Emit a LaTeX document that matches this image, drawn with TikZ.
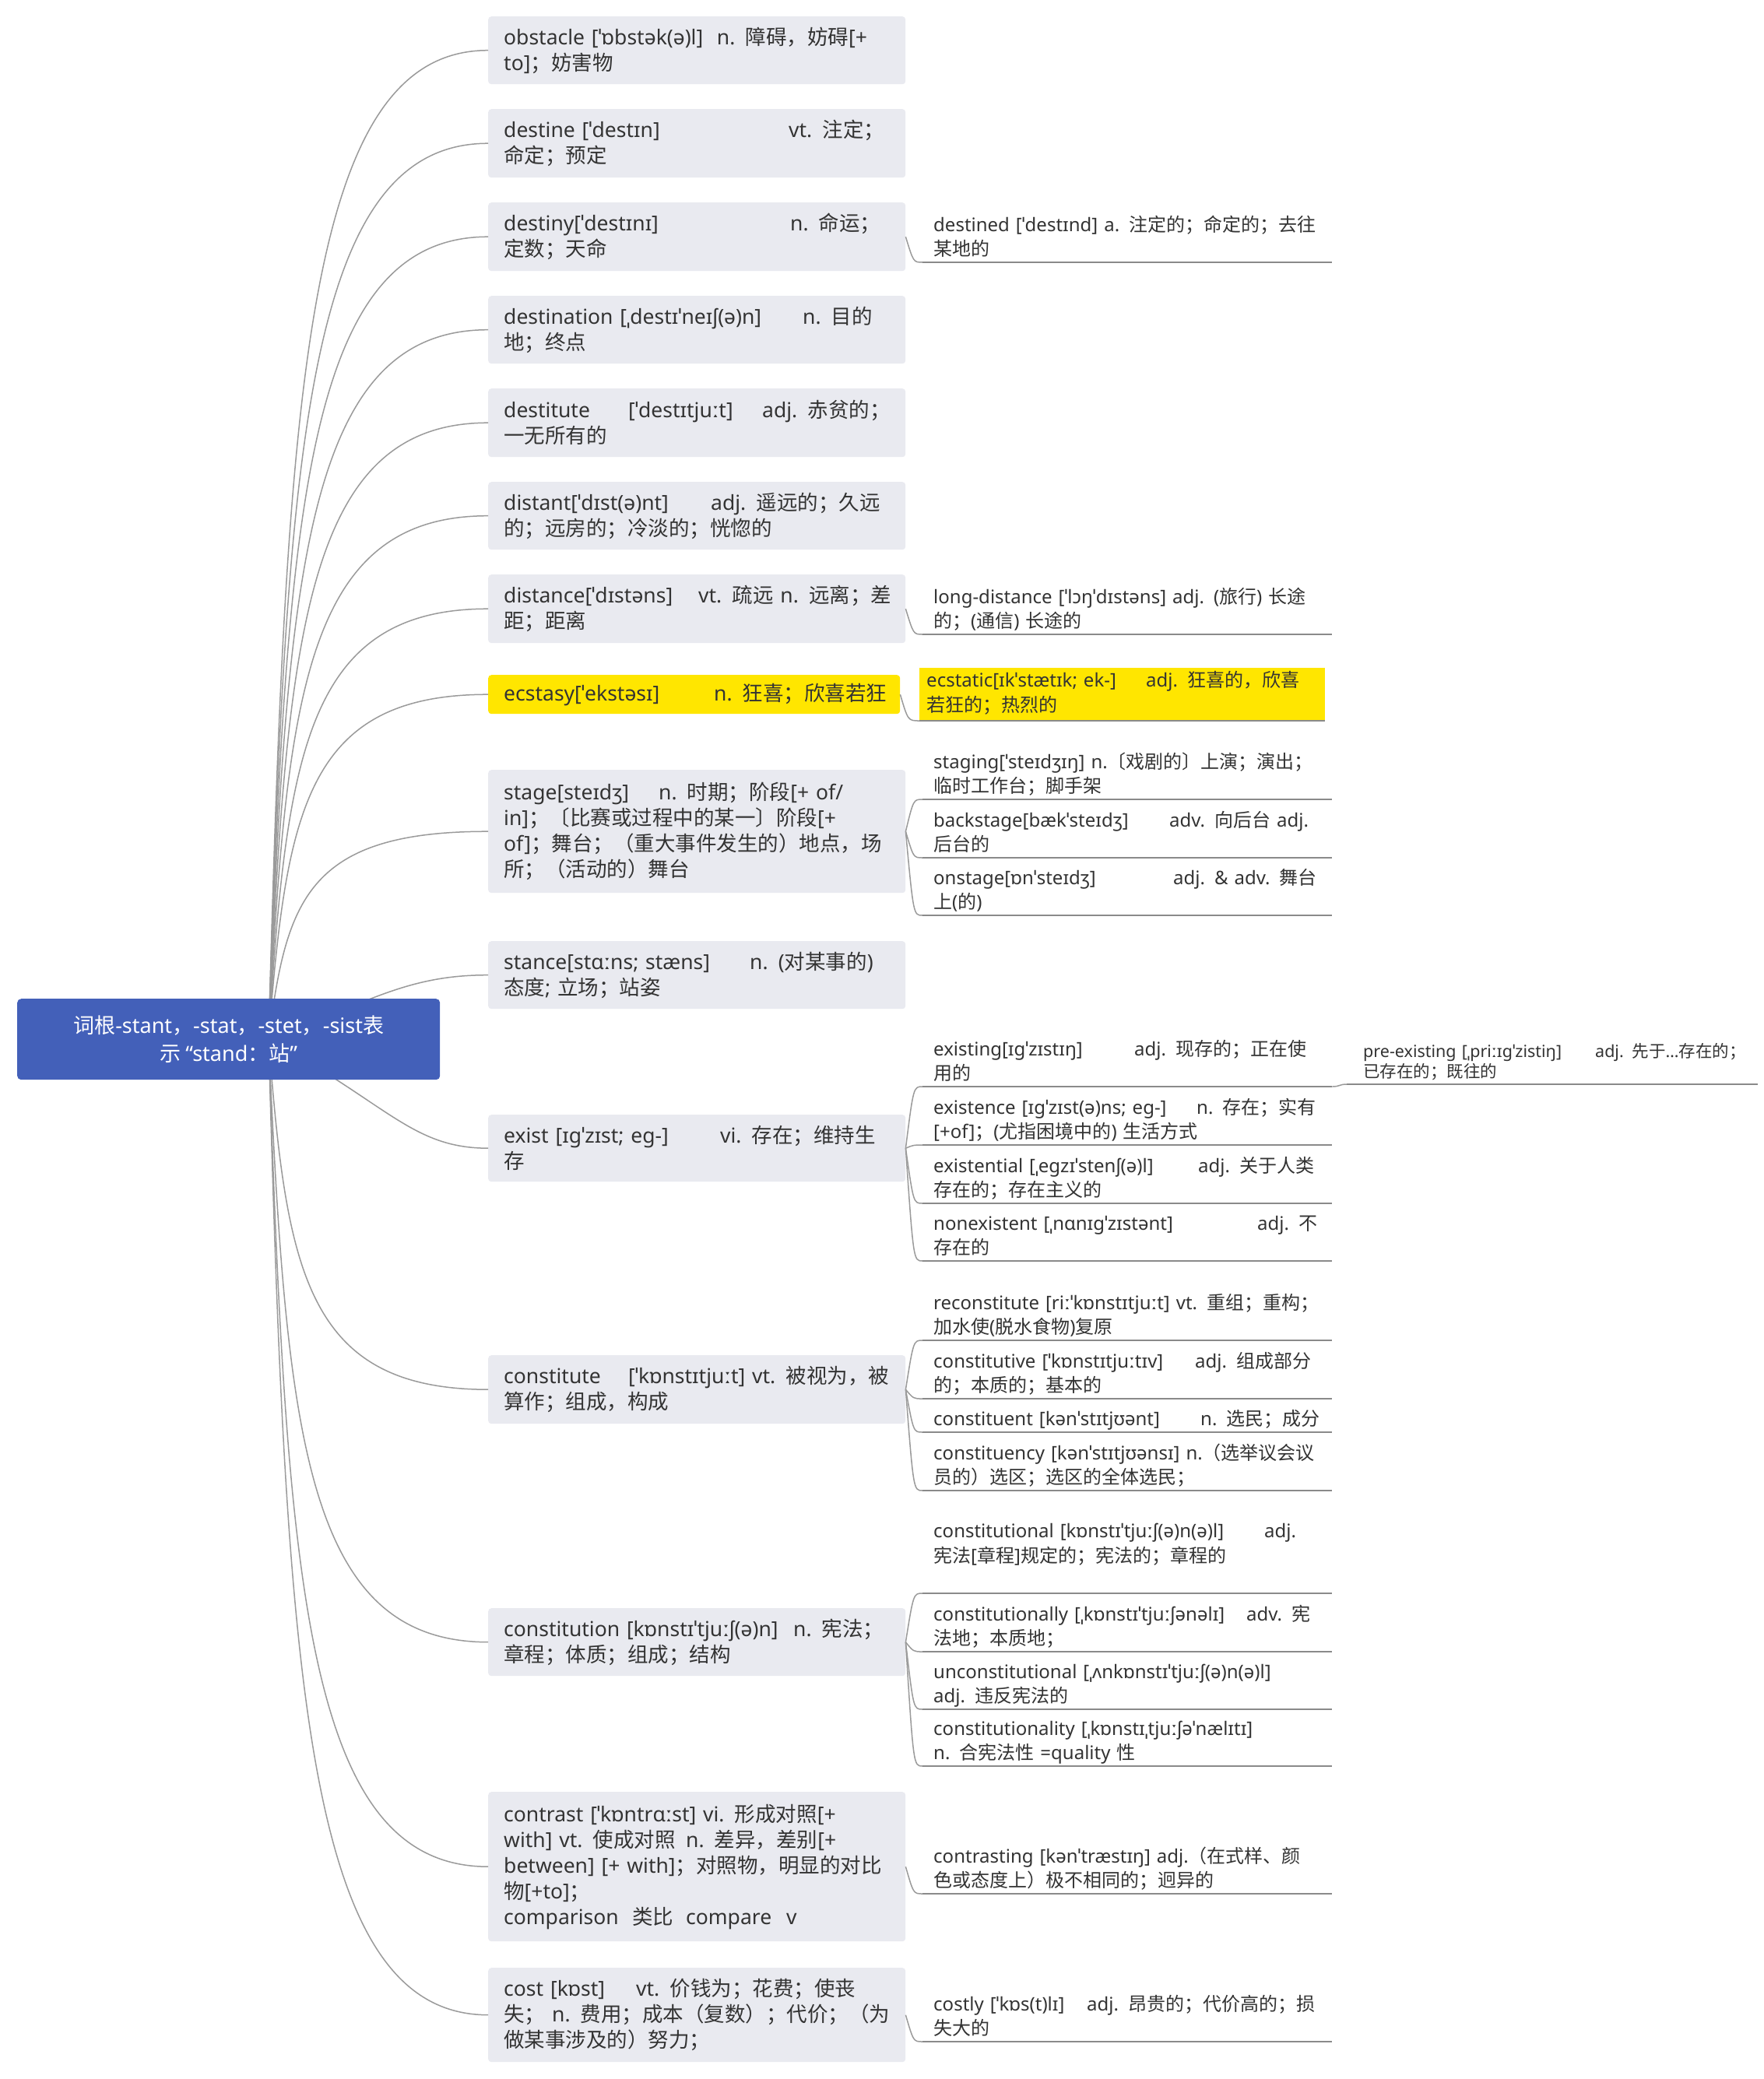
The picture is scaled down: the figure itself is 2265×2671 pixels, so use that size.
\documentclass[tikz,border=0pt]{standalone}
\usepackage{fontspec}
\setmainfont{Noto Sans}
\newfontfamily\cjkfont{Noto Sans CJK SC}
\usetikzlibrary{calc}
\XeTeXinterchartokenstate=1
\newXeTeXintercharclass\CJKcls
\makeatletter
\def\setcjkrange#1#2{\count@=#1\relax\loop\XeTeXcharclass\count@=\CJKcls\relax\advance\count@ by 1\relax\ifnum\count@<#2\relax\repeat}
\setcjkrange{"4E00}{"A000}
\setcjkrange{"3000}{"3040}
\setcjkrange{"FF00}{"FFF0}
\makeatother
\XeTeXinterchartoks 0 \CJKcls = {\cjkfont}
\XeTeXinterchartoks 4095 \CJKcls = {\cjkfont}
\XeTeXinterchartoks \CJKcls 0 = {\rmfamily}
\XeTeXinterchartoks \CJKcls 4095 = {\rmfamily}

\definecolor{midgray}{HTML}{E9EAF0}
\definecolor{rootblue}{HTML}{4360B9}
\definecolor{hiyellow}{HTML}{FFE600}
\definecolor{linegray}{HTML}{9A9A9A}
\definecolor{ulgray}{HTML}{8A8A8A}
\definecolor{txt}{HTML}{333333}

\newcommand\midfont{\fontsize{26.5pt}{33pt}\selectfont}
\newcommand\subfont{\fontsize{24pt}{31.5pt}\selectfont}
\newcommand\prefont{\fontsize{21.5pt}{26pt}\selectfont}
\newcommand\rootfont{\fontsize{27pt}{36pt}\selectfont}

\tikzset{
  conn/.style={draw=linegray, line width=1.5pt},
  uline/.style={draw=ulgray, line width=1.6pt},
  midbox/.style={fill=midgray, rounded corners=4pt, anchor=north west, text width=496pt,
    inner xsep=20pt, inner ysep=0pt, align=left, font=\midfont, text=txt},
  subtext/.style={anchor=south west, text width=498pt, inner xsep=14pt, inner ysep=1pt,
    align=left, font=\subfont, text=txt, execute at end node={\rule[-7pt]{0pt}{7pt}}},
  rootbox/.style={fill=rootblue, rounded corners=5pt, anchor=north west, text width=503pt,
    inner xsep=20pt, inner ysep=0pt, minimum height=104pt, align=center, font=\rootfont, text=white}
}
\newcommand\rootlink[2]{\draw[conn] (rootc) .. controls (368,{#2+0.343*(1335-#2)}) and (392,#2) .. (#1.west);}
\newcommand\sublink[2]{\draw[conn] (#1.east) .. controls ($(#1.east |- #2.south west)+(10,0)$) .. (#2.south west);}

\begin{document}
\begin{tikzpicture}[x=1pt,y=-1pt]
\useasboundingbox (0,0) rectangle (2265,2671);
\fill[white] (0,0) rectangle (2265,2671);

% ---------- middle column ----------
\node[midbox, minimum height=87pt] (obstacle) at (627,21) {\mbox{obstacle [ˈɒbstək(ə)l]\ \ n. 障碍，妨碍[+}\\to]；妨害物};
\node[midbox, minimum height=88pt] (destine) at (627,140) {\mbox{\makebox[366pt][l]{destine [ˈdestɪn]}vt. 注定；}\\命定；预定};
\node[midbox, minimum height=88pt] (destiny) at (627,260) {\mbox{\makebox[368pt][l]{destiny[ˈdestɪnɪ]}n. 命运；}\\定数；天命};
\node[midbox, minimum height=87pt] (destination) at (627,380) {\mbox{\makebox[384pt][l]{destination [ˌdestɪˈneɪʃ(ə)n]}n. 目的}\\地；终点};
\node[midbox, minimum height=88pt] (destitute) at (627,499) {\mbox{\makebox[160pt][l]{destitute}\makebox[172pt][l]{[ˈdestɪtjuːt]}adj. 赤贫的；}\\一无所有的};
\node[midbox, minimum height=87pt] (distant) at (627,619) {\mbox{\makebox[266pt][l]{distant[ˈdɪst(ə)nt]}adj. 遥远的；久远}\\的；远房的；冷淡的；恍惚的};
\node[midbox, minimum height=88pt] (distance) at (627,738) {\mbox{\makebox[250pt][l]{distance[ˈdɪstəns]}vt. 疏远 n. 远离；差}\\距；距离};
\node[midbox, fill=hiyellow, text width=489pt, minimum height=50pt] (ecstasy) at (627,867) {\mbox{\makebox[270pt][l]{ecstasy[ˈekstəsɪ]}n. 狂喜；欣喜若狂}};
\node[midbox, minimum height=158pt] (stage) at (627,989) {\mbox{\makebox[199pt][l]{stage[steɪdʒ]}n. 时期；阶段[+ of/}\\in]；〔比赛或过程中的某一〕阶段[+\\\mbox{of]；舞台；（重大事件发生的）地点，场}\\所；（活动的）舞台};
\node[midbox, minimum height=87pt] (stance) at (627,1209) {\mbox{\makebox[316pt][l]{stance[stɑːns; stæns]}n. (对某事的)}\\\mbox{态度; 立场；站姿}};
\node[midbox, minimum height=86pt] (exist) at (627,1432) {\mbox{\makebox[278pt][l]{exist [ɪgˈzɪst; eg-]}vi. 存在；维持生}\\存};
\node[midbox, minimum height=88pt] (constitute) at (627,1741) {\mbox{\makebox[160pt][l]{constitute}[ˈkɒnstɪtjuːt] vt. 被视为，被}\\算作；组成，构成};
\node[midbox, minimum height=87pt] (constitution) at (627,2066) {\mbox{\makebox[372pt][l]{constitution [kɒnstɪˈtjuːʃ(ə)n]}n. 宪法；}\\章程；体质；组成；结构};
\node[midbox, minimum height=192pt] (contrast) at (627,2302) {\mbox{contrast [ˈkɒntrɑːst] vi. 形成对照[+}\\\mbox{\makebox[234pt][l]{with] vt. 使成对照}n. 差异，差别[+}\\\mbox{between] [+ with]；对照物，明显的对比}\\物[+to]；\\\mbox{\makebox[165pt][l]{comparison}\makebox[69pt][l]{类比}\makebox[129pt][l]{compare}v}};
\node[midbox, minimum height=121pt] (cost) at (627,2528) {\mbox{\makebox[170pt][l]{cost [kɒst]}vt. 价钱为；花费；使丧}\\\mbox{\makebox[62pt][l]{失；}n. 费用；成本（复数）；代价；（为}\\做某事涉及的）努力；};

% ---------- right column ----------
\node[subtext] (destined) at (1185,337) {\mbox{destined [ˈdestɪnd] a. 注定的；命定的；去往}\\某地的};
\node[subtext] (longdist) at (1185,815) {\mbox{long-distance [ˈlɔŋˈdɪstəns] adj. (旅行) 长途}\\\mbox{的；(通信) 长途的}};
\node[subtext, fill=hiyellow, text width=503pt, inner xsep=9pt, minimum height=68pt] (ecstatic) at (1181,926) {\mbox{\makebox[282pt][l]{ecstatic[ɪkˈstætɪk; ek-]}adj. 狂喜的，欣喜}\\若狂的；热烈的};
\node[subtext] (staging) at (1185,1027) {\mbox{staging[ˈsteɪdʒɪŋ] n.〔戏剧的〕上演；演出；}\\临时工作台；脚手架};
\node[subtext] (backstage) at (1185,1102) {\mbox{\makebox[303pt][l]{backstage[bækˈsteɪdʒ]}adv. 向后台 adj.}\\后台的};
\node[subtext] (onstage) at (1185,1176) {\mbox{\makebox[308pt][l]{onstage[ɒnˈsteɪdʒ]}adj. \& adv. 舞台}\\上(的)};
\node[subtext] (existing) at (1185,1396) {\mbox{\makebox[258pt][l]{existing[ɪgˈzɪstɪŋ]}adj. 现存的；正在使}\\用的};
\node[subtext, font=\prefont, text width=489pt, inner xsep=21pt, execute at end node={\rule[-6pt]{0pt}{6pt}}] (preex) at (1730,1393) {\mbox{\makebox[298pt][l]{pre-existing [ˌpriːɪgˈzistiŋ]}adj. 先于…存在的；}\\已存在的；既往的};
\node[subtext] (existence) at (1185,1471) {\mbox{\makebox[338pt][l]{existence [ɪgˈzɪst(ə)ns; eg-]}n. 存在；实有}\\\mbox{[+of]；(尤指困境中的) 生活方式}};
\node[subtext] (existential) at (1185,1546) {\mbox{\makebox[340pt][l]{existential [ˌegzɪˈstenʃ(ə)l]}adj. 关于人类}\\存在的；存在主义的};
\node[subtext] (nonexistent) at (1185,1620) {\mbox{\makebox[416pt][l]{nonexistent [ˌnɑnɪgˈzɪstənt]}adj. 不}\\存在的};
\node[subtext] (reconstitute) at (1185,1722) {\mbox{reconstitute [riːˈkɒnstɪtjuːt] vt. 重组；重构；}\\加水使(脱水食物)复原};
\node[subtext] (constitutive) at (1185,1797) {\mbox{\makebox[336pt][l]{constitutive [ˈkɒnstɪtjuːtɪv]}adj. 组成部分}\\的；本质的；基本的};
\node[subtext] (constituent) at (1185,1840) {\mbox{\makebox[343pt][l]{constituent [kənˈstɪtjʊənt]}n. 选民；成分}};
\node[subtext] (constituency) at (1185,1915) {\mbox{constituency [kənˈstɪtjʊənsɪ] n.（选举议会议}\\员的）选区；选区的全体选民；};
\node[subtext] (constitutional) at (1185,2047) {\mbox{\makebox[425pt][l]{constitutional [kɒnstɪˈtjuːʃ(ə)n(ə)l]}adj.}\\宪法[章程]规定的；宪法的；章程的\\\mbox{}};
\node[subtext] (constitutionally) at (1185,2122) {\mbox{\makebox[402pt][l]{constitutionally [ˌkɒnstɪˈtjuːʃənəlɪ]}adv. 宪}\\法地；本质地；};
\node[subtext] (unconstitutional) at (1185,2196) {\mbox{unconstitutional [ˌʌnkɒnstɪˈtjuːʃ(ə)n(ə)l]}\\\mbox{adj. 违反宪法的}};
\node[subtext] (constitutionality) at (1185,2269) {\mbox{constitutionality [ˌkɒnstɪˌtjuːʃəˈnælɪtɪ]}\\\mbox{n. 合宪法性 =quality 性}};
\node[subtext] (contrasting) at (1185,2433) {\mbox{contrasting [kənˈtræstɪŋ] adj.（在式样、颜}\\色或态度上）极不相同的；迥异的};
\node[subtext] (costly) at (1185,2623) {\mbox{\makebox[197pt][l]{costly [ˈkɒs(t)lɪ]}adj. 昂贵的；代价高的；损}\\失大的};

% underlines
\foreach \n in {destined,longdist,ecstatic,staging,backstage,onstage,existing,existence,existential,nonexistent,reconstitute,constitutive,constituent,constituency,constitutional,constitutionally,unconstitutional,constitutionality,contrasting,costly}
  {\draw[uline] (\n.south west) -- (\n.south east);}
\draw[uline] (preex.south west) -- ++(528,0);

% sub connectors
\sublink{destiny}{destined}
\sublink{distance}{longdist}
\sublink{ecstasy}{ecstatic}
\sublink{stage}{staging}
\sublink{stage}{backstage}
\sublink{stage}{onstage}
\sublink{exist}{existing}
\sublink{exist}{existence}
\sublink{exist}{existential}
\sublink{exist}{nonexistent}
\sublink{constitute}{reconstitute}
\sublink{constitute}{constitutive}
\sublink{constitute}{constituent}
\sublink{constitute}{constituency}
\sublink{constitution}{constitutional}
\sublink{constitution}{constitutionally}
\sublink{constitution}{unconstitutional}
\sublink{constitution}{constitutionality}
\sublink{contrast}{contrasting}
\sublink{cost}{costly}
\draw[conn] (existing.south east) .. controls ($(existing.south east)+(10,0)$) and ($(preex.south west)+(-10,0)$) .. (preex.south west);

% root connectors
\coordinate (rootc) at (345,1335);
\rootlink{obstacle}{64.5}
\rootlink{destine}{184}
\rootlink{destiny}{304}
\rootlink{destination}{423.5}
\rootlink{destitute}{543}
\rootlink{distant}{662.5}
\rootlink{distance}{782}
\rootlink{ecstasy}{892}
\rootlink{stage}{1068}
\draw[conn] (rootc) .. controls (470,1290) and (520,1252.5) .. (stance.west);
\draw[conn] (rootc) .. controls (500,1420) and (530,1475) .. (exist.west);
\rootlink{constitute}{1785}
\rootlink{constitution}{2109.5}
\rootlink{contrast}{2398}
\rootlink{cost}{2588.5}

% root
\node[rootbox] (root) at (22,1283) {\mbox{词根-stant，-stat，-stet，-sist表}\\示\hspace{6pt}“stand：站”};
\end{tikzpicture}
\end{document}
